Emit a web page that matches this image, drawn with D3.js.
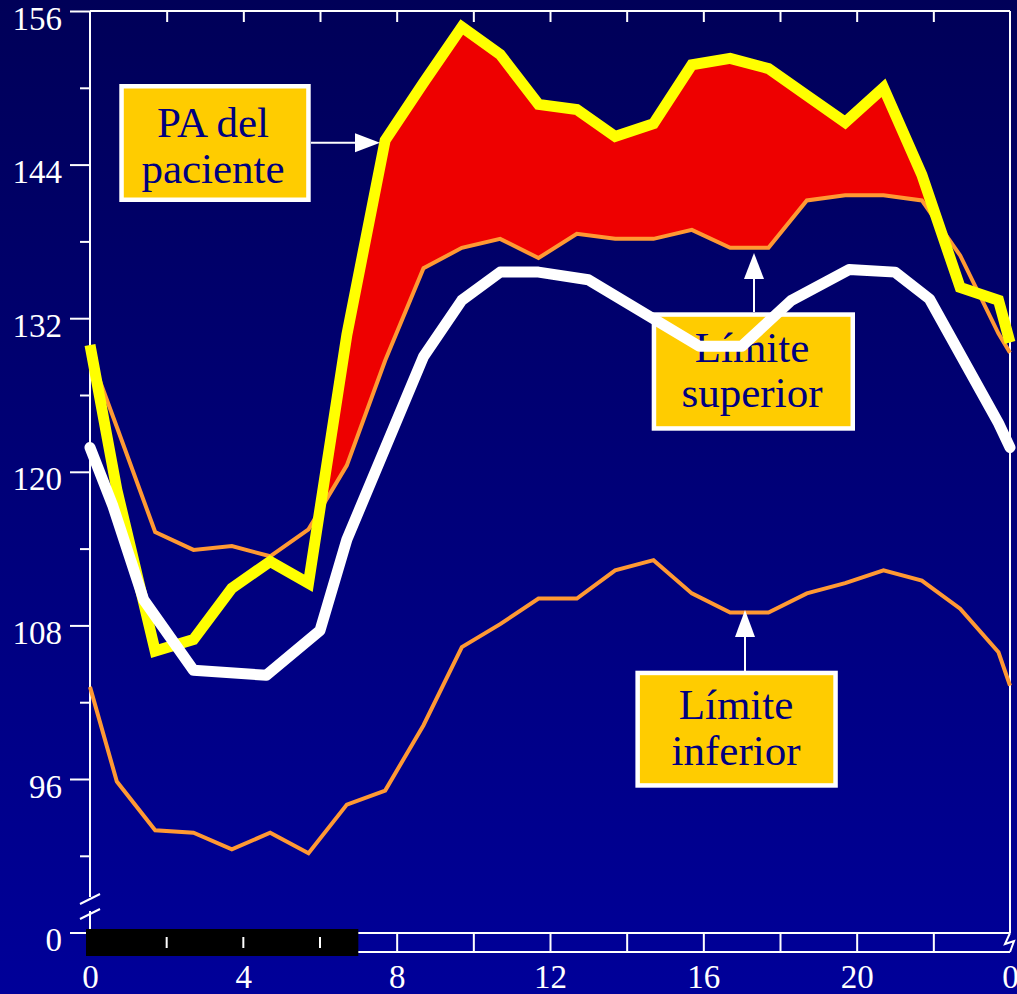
<!DOCTYPE html>
<html>
<head>
<meta charset="utf-8">
<script src="https://cdn.jsdelivr.net/npm/d3@7"></script>
<style>
  html, body { margin: 0; padding: 0; background: #000070; }
  svg { display: block; }
</style>
</head>
<body>
<svg id="chart" width="1017" height="994"></svg>
<script>
// ---------------- DATA ----------------
// hourly readings (hour of day); 24 = back to 0
const hours = [0, 0.7, 1.7, 2.7, 3.7, 4.7, 5.7, 6.7, 7.7, 8.7, 9.7, 10.7, 11.7,
               12.7, 13.7, 14.7, 15.7, 16.7, 17.7, 18.7, 19.7, 20.7, 21.7, 22.7, 23.7, 24];
// PA del paciente (yellow)
const patient = [129.9, 118.6, 106.0, 106.9, 110.9, 113.0, 111.3, 130.7, 145.9, 150.4, 154.75, 152.6, 148.7,
                 148.3, 146.2, 147.2, 151.8, 152.3, 151.5, 149.4, 147.3, 150.0, 143.2, 134.4, 133.4, 130.1];
// Límite superior (orange, upper)
const upperLimit = [129.2, 123.5, 115.3, 113.9, 114.2, 113.4, 115.5, 120.5, 128.7, 135.9, 137.5, 138.2, 136.7,
                    138.6, 138.2, 138.2, 138.9, 137.5, 137.5, 141.2, 141.6, 141.6, 141.2, 136.9, 130.8, 129.3];
// Límite inferior (orange, lower)
const lowerLimit = [103.2, 95.8, 92.0, 91.8, 90.5, 91.8, 90.2, 94.0, 95.1, 100.2, 106.3, 108.1, 110.1,
                    110.1, 112.3, 113.1, 110.5, 109.0, 109.0, 110.5, 111.3, 112.3, 111.5, 109.3, 105.9, 103.3];
// mean (white) curve
const meanHours  = [0, 0.6, 1.4, 2.7, 4.6, 6.0, 6.7, 8.7, 9.7, 10.7, 11.7, 13.0, 15.9, 17.0, 18.3, 19.8, 21.0, 21.9, 23.7, 24];
const meanValues = [121.9, 117.3, 110.0, 104.5, 104.1, 107.6, 114.7, 129.0, 133.4, 135.6, 135.6, 135.0, 129.8, 129.8,
                    133.4, 135.8, 135.6, 133.5, 123.8, 121.9];
// axis ticks
const yMajorTicks = [96, 108, 120, 132, 144, 156];
const yMinorTicks = [90, 102, 114, 126, 138, 150];
const xGridTicks  = [2, 4, 6, 8, 10, 12, 14, 16, 18, 20, 22];
const xLabelTicks = [0, 4, 8, 12, 16, 20, 24];
const sleepPeriod = [0, 7];
const excessRange = [5.7, 22.7];
// annotations
const labels = [
  { lines: ["PA del", "paciente"] },
  { lines: ["Límite", "superior"] },
  { lines: ["Límite", "inferior"] }
];

// ---------------- LAYOUT ----------------
const svg = d3.select("#chart");
const W = 1017, H = 994;
const FONT = "'Liberation Serif', 'Times New Roman', Times, serif";
const x = d3.scaleLinear().domain([0, 24]).range([90, 1010]);
const y = d3.scaleLinear().domain([90, 156]).range([855.8, 11]);
const yZero = 933;
const xLeft = x(0), xRight = x(24), yTop = y(156);
const boxTop = 933, boxBottom = 952;

// background gradient
const defs = svg.append("defs");
const grad = defs.append("linearGradient").attr("id", "bg").attr("x1", 0).attr("y1", 0).attr("x2", 0).attr("y2", 1);
grad.append("stop").attr("offset", "0%").attr("stop-color", "#000058");
grad.append("stop").attr("offset", "100%").attr("stop-color", "#000099");
svg.append("rect").attr("width", W).attr("height", H).attr("fill", "url(#bg)");

// ---------------- RED EXCESS AREA ----------------
const i0 = hours.indexOf(excessRange[0]), i1 = hours.indexOf(excessRange[1]);
function excessRuns() {
  const runs = []; let cur = null;
  const cross = (i) => {
    const dp = patient[i - 1] - upperLimit[i - 1], d = patient[i] - upperLimit[i];
    const t = dp / (dp - d);
    const h = hours[i - 1] + t * (hours[i] - hours[i - 1]);
    const v = upperLimit[i - 1] + t * (upperLimit[i] - upperLimit[i - 1]);
    return { h, lo: v, hi: v };
  };
  for (let i = i0; i <= i1; i++) {
    const d = patient[i] - upperLimit[i];
    if (d > 0) {
      if (!cur) { cur = []; if (i > i0) cur.push(cross(i)); }
      cur.push({ h: hours[i], lo: upperLimit[i], hi: patient[i] });
    } else if (cur) {
      cur.push(cross(i)); runs.push(cur); cur = null;
    }
  }
  if (cur) runs.push(cur);
  return runs;
}
const area = d3.area().x(d => x(d.h)).y0(d => y(d.lo)).y1(d => y(d.hi));
svg.append("g").selectAll("path").data(excessRuns()).join("path")
  .attr("d", area).attr("fill", "#EE0000");

// ---------------- AXES / FRAME ----------------
const axisG = svg.append("g").attr("stroke", "#fff").attr("stroke-width", 2).attr("fill", "none");
// top border & right border
axisG.append("line").attr("x1", xLeft).attr("x2", xRight).attr("y1", yTop).attr("y2", yTop);
axisG.append("line").attr("x1", xRight).attr("x2", xRight).attr("y1", yTop).attr("y2", boxTop);
// left axis with break
axisG.append("line").attr("x1", xLeft).attr("x2", xLeft).attr("y1", yTop).attr("y2", 897);
axisG.append("line").attr("x1", xLeft).attr("x2", xLeft).attr("y1", 911).attr("y2", yZero);
axisG.append("line").attr("x1", 80).attr("x2", 100).attr("y1", 904).attr("y2", 894);
axisG.append("line").attr("x1", 80).attr("x2", 100).attr("y1", 919).attr("y2", 909);
// bottom time box
axisG.append("line").attr("x1", xLeft).attr("x2", xRight).attr("y1", boxTop).attr("y2", boxTop);
axisG.append("line").attr("x1", xLeft).attr("x2", xRight).attr("y1", boxBottom).attr("y2", boxBottom);
axisG.append("path").attr("d", `M${xRight},${boxTop} L${xRight - 5},${boxTop + 11} L${xRight + 4},${boxTop + 8} L${xRight},${boxBottom}`);

function styleAxis(g) {
  g.select(".domain").remove();
  g.selectAll(".tick line").attr("stroke", "#fff").attr("stroke-width", 2);
  g.selectAll(".tick text").attr("fill", "#fff").style("font-family", FONT).style("font-size", "33px");
}
// y major ticks with labels
svg.append("g").attr("transform", `translate(${xLeft},0)`)
  .call(d3.axisLeft(y).tickValues(yMajorTicks).tickSize(20).tickPadding(8).tickFormat(d3.format("d")))
  .call(styleAxis)
  .call(g => g.selectAll(".tick text").attr("dy", "0.55em"));
// y minor ticks
svg.append("g").attr("transform", `translate(${xLeft},0)`)
  .call(d3.axisLeft(y).tickValues(yMinorTicks).tickSize(10).tickFormat(""))
  .call(styleAxis);
// zero tick after the break
svg.append("line").attr("x1", xLeft - 20).attr("x2", xLeft).attr("y1", yZero).attr("y2", yZero)
  .attr("stroke", "#fff").attr("stroke-width", 2);
svg.append("text").attr("x", xLeft - 28).attr("y", yZero).attr("dy", "0.55em")
  .attr("text-anchor", "end").attr("fill", "#fff").style("font-family", FONT).style("font-size", "33px").text("0");
// top ticks
svg.append("g").attr("transform", `translate(0,${yTop})`)
  .call(d3.axisBottom(x).tickValues(xGridTicks).tickSize(11).tickFormat(""))
  .call(styleAxis);
// bottom box dividers
svg.append("g").attr("transform", `translate(0,${boxTop})`)
  .call(d3.axisBottom(x).tickValues(xGridTicks).tickSize(boxBottom - boxTop).tickFormat(""))
  .call(styleAxis);
// sleep bar (black)
svg.append("rect").attr("x", x(sleepPeriod[0]) - 4).attr("y", boxTop - 4)
  .attr("width", x(sleepPeriod[1]) - x(sleepPeriod[0]) + 4).attr("height", boxBottom - boxTop + 8)
  .attr("fill", "#000");
svg.append("g").selectAll("line").data(xGridTicks.filter(h => h > sleepPeriod[0] && h < sleepPeriod[1])).join("line")
  .attr("x1", d => x(d)).attr("x2", d => x(d)).attr("y1", boxTop + 4).attr("y2", boxTop + 15)
  .attr("stroke", "#fff").attr("stroke-width", 2);
// x labels
svg.append("g").attr("transform", `translate(0,${boxBottom})`)
  .call(d3.axisBottom(x).tickValues(xLabelTicks).tickSize(0).tickFormat(d => String(d % 24)))
  .call(styleAxis)
  .call(g => g.selectAll(".tick text").attr("y", 36).attr("dy", 0));

// ---------------- LINES ----------------
const line = d3.line().x(d => x(d[0])).y(d => y(d[1]));
const zipH = (vals) => hours.map((h, i) => [h, vals[i]]);
svg.append("path").datum(zipH(lowerLimit)).attr("d", line)
  .attr("fill", "none").attr("stroke", "#FF9933").attr("stroke-width", 4).attr("stroke-linejoin", "miter");
svg.append("path").datum(zipH(upperLimit)).attr("d", line)
  .attr("fill", "none").attr("stroke", "#FF9933").attr("stroke-width", 4).attr("stroke-linejoin", "miter");
svg.append("path").datum(zipH(patient)).attr("d", line)
  .attr("fill", "none").attr("stroke", "#FFFF00").attr("stroke-width", 11).attr("stroke-linejoin", "miter");

// ---------------- ANNOTATIONS ----------------
const ann = svg.append("g");
function arrow(x1, y1, x2, y2, headLen, headHalf) {
  const dx = x2 - x1, dy = y2 - y1, L = Math.hypot(dx, dy), ux = dx / L, uy = dy / L;
  const bx = x2 - ux * headLen, by = y2 - uy * headLen;
  ann.append("line").attr("x1", x1).attr("y1", y1).attr("x2", bx).attr("y2", by)
    .attr("stroke", "#fff").attr("stroke-width", 2);
  ann.append("path").attr("d", `M${x2},${y2} L${bx - uy * headHalf},${by + ux * headHalf} L${bx + uy * headHalf},${by - ux * headHalf} Z`)
    .attr("fill", "#fff");
}
function box(bx, by, bw, bh, lines, cx, baselines) {
  ann.append("rect").attr("x", bx + 2.25).attr("y", by + 2.25).attr("width", bw - 4.5).attr("height", bh - 4.5)
    .attr("fill", "#FFCC00").attr("stroke", "#fff").attr("stroke-width", 4.5);
  lines.forEach((t, i) => {
    ann.append("text").attr("x", cx).attr("y", baselines[i]).attr("text-anchor", "middle")
      .attr("fill", "#000080").style("font-family", FONT).style("font-size", "43px").text(t);
  });
}
arrow(311, 142.7, 380, 142.7, 25, 9.5);
box(119.3, 84, 191.4, 118, labels[0].lines, 213, [136.7, 183]);
arrow(754, 312, 754, 253, 26, 10);
box(651.7, 312.3, 203.3, 118.4, labels[1].lines, 752, [361.7, 406.7]);
arrow(745, 671, 745, 610, 27, 10);
box(635.4, 670.7, 202.4, 117, labels[2].lines, 736, [719.3, 765]);

// white mean line on top
svg.append("path").datum(meanHours.map((h, i) => [h, meanValues[i]])).attr("d", line)
  .attr("fill", "none").attr("stroke", "#fff").attr("stroke-width", 11)
  .attr("stroke-linejoin", "round").attr("stroke-linecap", "round");
</script>
</body>
</html>
